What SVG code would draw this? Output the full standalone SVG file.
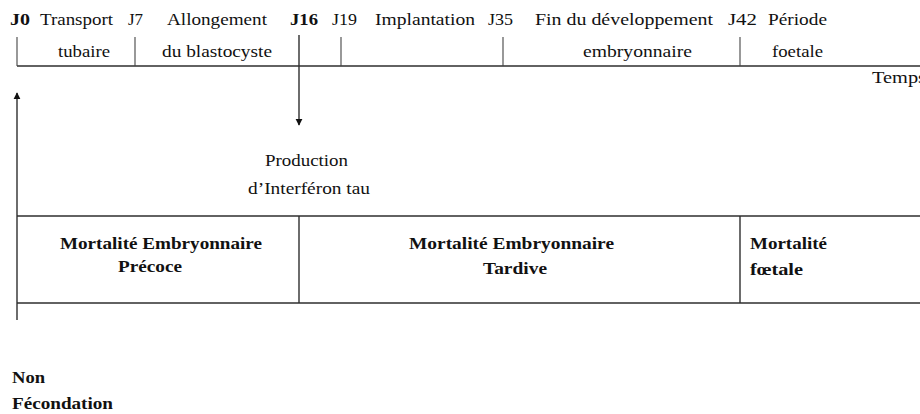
<svg xmlns="http://www.w3.org/2000/svg" width="920" height="414" viewBox="0 0 920 414">
<style>
  text { font-family: "Liberation Serif", "Times New Roman", serif; fill: #111111; font-size: 17px; }
  .b { font-weight: bold; }
  .ln { stroke: #2e2e2e; stroke-width: 1.4; fill: none; }
  .tk { stroke: #444; stroke-width: 1.1; fill: none; }
</style>
<defs>
  <marker id="ah" viewBox="0 0 10 10" refX="9" refY="5" markerWidth="7" markerHeight="8" markerUnits="userSpaceOnUse" orient="auto">
    <path d="M0,0 L10,5 L0,10 Z" fill="#111111"/>
  </marker>
</defs>
<rect width="920" height="414" fill="#ffffff"/>

<g id="timeline">
  <line class="ln" x1="17" y1="66" x2="920" y2="66"/>
  <line class="tk" x1="17" y1="37" x2="17" y2="66"/>
  <line class="tk" x1="135" y1="37" x2="135" y2="66"/>
  <line class="tk" x1="341" y1="37" x2="341" y2="66"/>
  <line class="tk" x1="503" y1="37" x2="503" y2="66"/>
  <line class="tk" x1="740" y1="37" x2="740" y2="66"/>
</g>

<g id="labels-top">
  <text class="b" x="10" y="25" textLength="20" lengthAdjust="spacingAndGlyphs">J0</text>
  <text x="40" y="25" textLength="73" lengthAdjust="spacingAndGlyphs">Transport</text>
  <text x="128" y="25" textLength="15" lengthAdjust="spacingAndGlyphs">J7</text>
  <text x="167" y="25" textLength="100" lengthAdjust="spacingAndGlyphs">Allongement</text>
  <text class="b" x="290" y="25" textLength="28" lengthAdjust="spacingAndGlyphs">J16</text>
  <text x="332" y="25" textLength="25" lengthAdjust="spacingAndGlyphs">J19</text>
  <text x="375" y="25" textLength="100" lengthAdjust="spacingAndGlyphs">Implantation</text>
  <text x="488" y="25" textLength="25" lengthAdjust="spacingAndGlyphs">J35</text>
  <text x="535" y="25" textLength="178" lengthAdjust="spacingAndGlyphs">Fin du développement</text>
  <text x="728" y="25" textLength="29" lengthAdjust="spacingAndGlyphs">J42</text>
  <text x="768" y="25" textLength="59" lengthAdjust="spacingAndGlyphs">Période</text>
  <text x="58" y="57" textLength="52" lengthAdjust="spacingAndGlyphs">tubaire</text>
  <text x="162" y="57" textLength="110" lengthAdjust="spacingAndGlyphs">du blastocyste</text>
  <text x="583" y="57" textLength="109" lengthAdjust="spacingAndGlyphs">embryonnaire</text>
  <text x="772" y="57" textLength="51" lengthAdjust="spacingAndGlyphs">foetale</text>
  <text x="872" y="83" textLength="54" lengthAdjust="spacingAndGlyphs">Temps</text>
</g>

<g id="connectors">
  <line class="ln" x1="299" y1="35" x2="299" y2="125" marker-end="url(#ah)"/>
  <line class="ln" x1="17" y1="320" x2="17" y2="93" marker-end="url(#ah)"/>
</g>

<g id="interferon">
  <text x="265" y="166" textLength="83" lengthAdjust="spacingAndGlyphs">Production</text>
  <text x="248" y="194" textLength="122" lengthAdjust="spacingAndGlyphs">d’Interféron tau</text>
</g>

<g id="table">
  <line class="ln" x1="17" y1="216" x2="920" y2="216"/>
  <line class="ln" x1="17" y1="303" x2="920" y2="303"/>
  <line class="ln" x1="299" y1="216" x2="299" y2="303"/>
  <line class="ln" x1="740" y1="216" x2="740" y2="303"/>
</g>

<g id="cell-precoce">
  <text class="b" x="60" y="249" textLength="202" lengthAdjust="spacingAndGlyphs">Mortalité Embryonnaire</text>
  <text class="b" x="118" y="272" textLength="64" lengthAdjust="spacingAndGlyphs">Précoce</text>
</g>

<g id="cell-tardive">
  <text class="b" x="409" y="249" textLength="205" lengthAdjust="spacingAndGlyphs">Mortalité Embryonnaire</text>
  <text class="b" x="483" y="274" textLength="64" lengthAdjust="spacingAndGlyphs">Tardive</text>
</g>

<g id="cell-foetale">
  <text class="b" x="750" y="249" textLength="77" lengthAdjust="spacingAndGlyphs">Mortalité</text>
  <text class="b" x="750" y="275" textLength="53" lengthAdjust="spacingAndGlyphs">fœtale</text>
</g>

<g id="non-fecondation">
  <text class="b" x="12" y="383" textLength="33" lengthAdjust="spacingAndGlyphs">Non</text>
  <text class="b" x="12" y="409" textLength="101" lengthAdjust="spacingAndGlyphs">Fécondation</text>
</g>
</svg>
